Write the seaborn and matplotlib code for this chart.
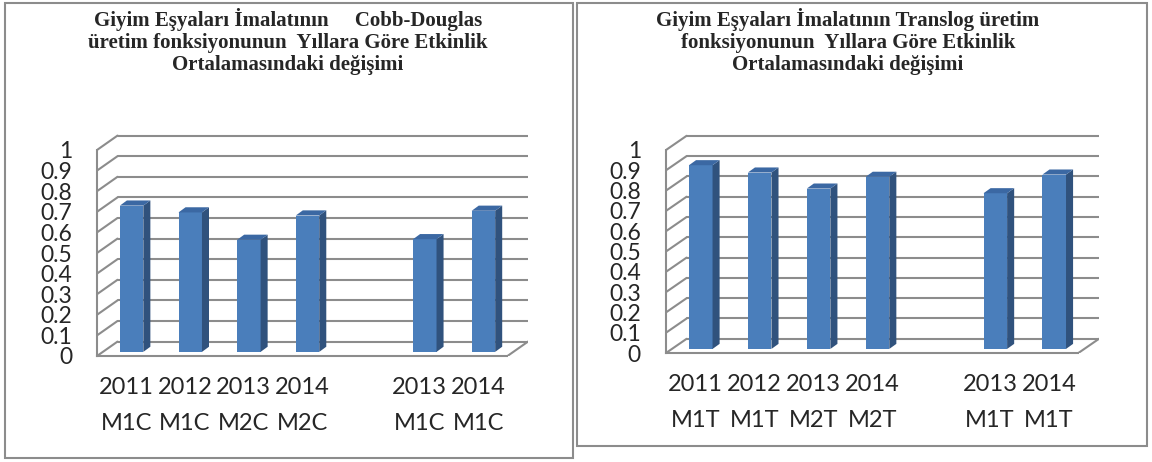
import numpy as np
import pandas as pd
import matplotlib
matplotlib.use("Agg")
import matplotlib.pyplot as plt
import seaborn as sns
from matplotlib.patches import Polygon, Rectangle

# chart data
cats_left = ["2011\nM1C", "2012\nM1C", "2013\nM2C", "2014\nM2C", "", "2013\nM1C", "2014\nM1C"]
vals_left = [0.71, 0.677, 0.544, 0.662, np.nan, 0.547, 0.685]

cats_right = ["2011\nM1T", "2012\nM1T", "2013\nM2T", "2014\nM2T", "", "2013\nM1T", "2014\nM1T"]
vals_right = [0.905, 0.869, 0.79, 0.848, np.nan, 0.767, 0.859]

title_left = "Giyim Eşyaları İmalatının     Cobb-Douglas\nüretim fonksiyonunun  Yıllara Göre Etkinlik\nOrtalamasındaki değişimi"
title_right = "Giyim Eşyaları İmalatının Translog üretim\nfonksiyonunun  Yıllara Göre Etkinlik\nOrtalamasındaki değişimi"

yticks = [round(v * 0.1, 1) for v in range(11)]

sns.set_style("white")
plt.rcParams['font.family'] = ['Lato', 'DejaVu Sans']

FRONT = "#4a7ebb"
SIDE = "#30527d"
TOP = "#3b68a3"
GRID = "#8c8c8c"

DX, DY = 0.35, 0.07      # depth of the back wall
BX, BY = 0.12, 0.025     # depth of a bar
OX, OY = 0.09, 0.02      # bar front offset from front plane


def draw_panel(ax, cats, vals):
    df = pd.DataFrame({"cat": cats, "val": vals})
    sns.barplot(data=df, x="cat", y="val", order=cats, color=FRONT,
                saturation=1, width=0.4, ax=ax, zorder=3, linewidth=0)
    n = len(cats)
    lo, hi = -0.5, n - 0.5

    # fake 3D: shift the bars and add side and top faces
    for p in list(ax.patches):
        h = p.get_height()
        if not np.isfinite(h) or h <= 0:
            p.set_visible(False)
            continue
        p.set_x(p.get_x() + OX)
        p.set_y(OY)
        x0, x1 = p.get_x(), p.get_x() + p.get_width()
        y0, y1 = OY, OY + h
        ax.add_patch(Polygon([(x1, y0), (x1 + BX, y0 + BY), (x1 + BX, y1 + BY), (x1, y1)],
                             closed=True, fc=SIDE, ec="none", zorder=3))
        ax.add_patch(Polygon([(x0, y1), (x0 + BX, y1 + BY), (x1 + BX, y1 + BY), (x1, y1)],
                             closed=True, fc=TOP, ec="none", zorder=3))

    # back wall grid and side wall diagonals
    for v in yticks:
        ax.plot([lo, lo + DX], [v, v + DY], color=GRID, lw=1.5, zorder=1)
        ax.plot([lo + DX, hi + DX], [v + DY, v + DY], color=GRID, lw=1.5, zorder=1)
    ax.plot([hi, hi + DX], [0, DY], color=GRID, lw=1.5, zorder=1)

    ax.set_xlim(lo, hi + DX)
    ax.set_ylim(0, 1 + DY + 0.01)
    ax.set_xlabel("")
    ax.set_ylabel("")

    sns.despine(ax=ax, top=True, right=True)
    for s in ["left", "bottom"]:
        ax.spines[s].set_color(GRID)
        ax.spines[s].set_linewidth(1.5)
    ax.spines["left"].set_bounds(0, 1)
    ax.spines["bottom"].set_bounds(lo, hi)

    ax.set_yticks(yticks)
    ax.set_yticklabels([f"{v:g}" for v in yticks])
    ax.tick_params(axis="y", direction="out", length=6, width=1.5, color=GRID,
                   labelsize=16.5, pad=12)

    ax.set_xticks(np.arange(lo, hi + 0.01, 1.0))
    ax.set_xticklabels([])
    ax.set_xticks(np.arange(n), minor=True)
    ax.set_xticklabels(cats, minor=True, linespacing=1.9)
    ax.tick_params(axis="x", which="major", direction="out", length=6, width=1.5, color=GRID)
    ax.tick_params(axis="x", which="minor", length=0, labelsize=17, pad=15)


fig = plt.figure(figsize=(11.52, 4.62), dpi=100)

# panel frames
fig.add_artist(Rectangle((5 / 1152, (462 - 458) / 462), 568 / 1152, 455 / 462,
                         transform=fig.transFigure, fill=False, ec="#8c8c8c", lw=1.5))
fig.add_artist(Rectangle((577 / 1152, (462 - 446) / 462), 570 / 1152, 443 / 462,
                         transform=fig.transFigure, fill=False, ec="#8c8c8c", lw=1.5))

ax1 = fig.add_axes([97 / 1152, 106 / 462, 431 / 1152, 1.08 * 206 / 462])
draw_panel(ax1, cats_left, vals_left)

ax2 = fig.add_axes([666 / 1152, 109 / 462, 433 / 1152, 1.08 * 203 / 462])
draw_panel(ax2, cats_right, vals_right)

fig.text(288 / 1152, 1 - 8 / 462, title_left, ha="center", va="top",
         family="Liberation Serif", weight="bold", fontsize=15, linespacing=1.12)
fig.text(848 / 1152, 1 - 8 / 462, title_right, ha="center", va="top",
         family="Liberation Serif", weight="bold", fontsize=15, linespacing=1.12)

fig.savefig("out.png", dpi=100)
